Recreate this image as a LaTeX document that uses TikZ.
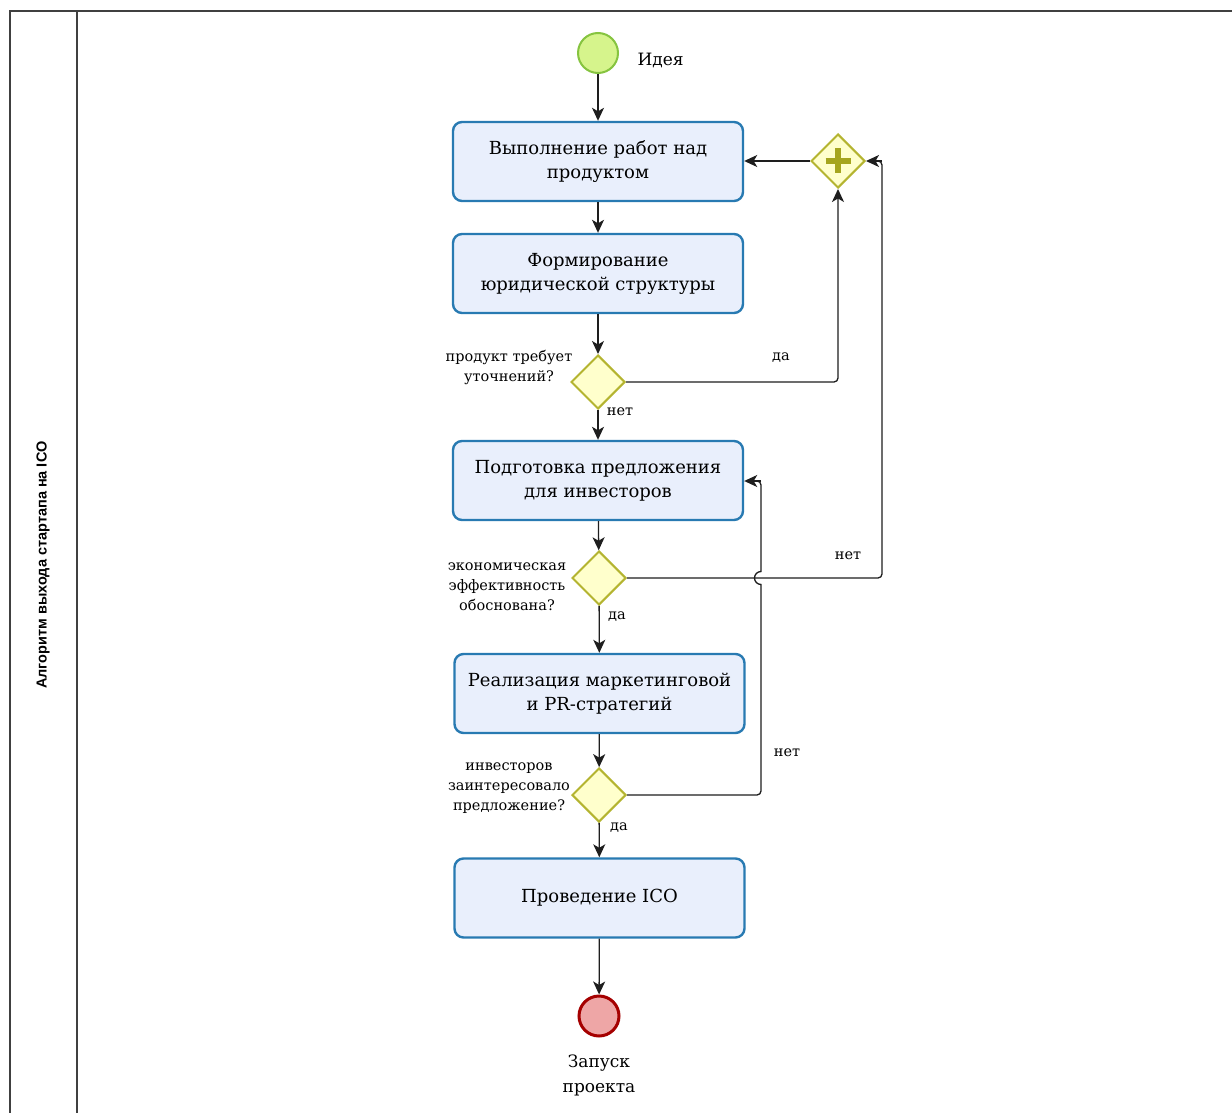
\documentclass[tikz,border=0pt]{standalone}
\usepackage{fontspec}
\setmainfont{DejaVu Serif}
\newfontfamily\lanefont{Liberation Sans}
\usetikzlibrary{shapes.geometric,arrows.meta,calc}

\definecolor{taskfill}{RGB}{233,239,252}
\definecolor{taskline}{RGB}{40,122,178}
\definecolor{gwfill}{RGB}{255,255,204}
\definecolor{gwline}{RGB}{180,180,48}
\definecolor{gwplus}{RGB}{165,165,30}
\definecolor{startfill}{RGB}{214,244,140}
\definecolor{startline}{RGB}{134,196,64}
\definecolor{endfill}{RGB}{238,166,166}
\definecolor{endline}{RGB}{165,0,0}
\definecolor{flowline}{RGB}{30,30,30}

\tikzset{
  task/.style={draw=taskline, fill=taskfill, line width=2.4pt, rounded corners=9pt,
    minimum width=290pt, minimum height=79pt, align=center, inner sep=0pt,
    font=\fontsize{18}{24}\selectfont},
  gateway/.style={diamond, aspect=1, draw=gwline, fill=gwfill, line width=2pt,
    minimum width=54pt, minimum height=54pt, inner sep=0pt},
  startev/.style={circle, draw=startline, fill=startfill, line width=2pt,
    minimum size=40pt, inner sep=0pt},
  endev/.style={circle, draw=endline, fill=endfill, line width=3pt,
    minimum size=40pt, inner sep=0pt},
  flowseg/.style={draw=flowline, line width=1.3pt},
  flow/.style={flowseg, -{Stealth[length=13pt,width=12pt,inset=3.5pt]}},
  gwlabel/.style={align=center, font=\fontsize{14.5}{20}\selectfont},
  lbl/.style={font=\fontsize{14.5}{16}\selectfont},
  evlabel/.style={align=center, font=\fontsize{17}{25}\selectfont},
  frame/.style={draw=black!75, line width=1.6pt}
}

\begin{document}
\begin{tikzpicture}[x=1pt,y=-1pt]
  \useasboundingbox (0,0) rectangle (1232,1113);
  \fill[white] (0,0) rectangle (1232,1113);

  % pool frame and lane header
  \begin{scope}
    \clip (0,0) rectangle (1232,1113);
    \draw[frame] (10,1120) -- (10,11) -- (1240,11);
    \draw[frame] (77,11) -- (77,1120);
  \end{scope}
  \node[rotate=90, font=\lanefont\bfseries\fontsize{14.5}{16}\selectfont] (lane) at (43,565)
    {Алгоритм выхода стартапа на ICO};

  % events
  \node[startev] (s) at (598,53) {};
  \node[evlabel, anchor=west] (slbl) at (634,60) {Идея};
  \node[endev] (e) at (599,1016) {};
  \node[evlabel] (elbl) at (599,1075) {Запуск\\проекта};

  % tasks
  \node[task] (t1) at (598,161.5) {Выполнение работ над\\продуктом};
  \node[task] (t2) at (598,273.5) {Формирование\\юридической структуры};
  \node[task] (t3) at (598,480.5) {Подготовка предложения\\для инвесторов};
  \node[task] (t4) at (599.5,693.5) {Реализация маркетинговой\\и PR-стратегий};
  \node[task] (t5) at (599.5,898) {Проведение ICO};

  % gateways
  \node[gateway] (g1) at (598,382) {};
  \node[gateway] (g2) at (599,578) {};
  \node[gateway] (g3) at (599,795) {};
  \node[gateway] (pg) at (838,161) {};
  \draw[gwplus, line width=6pt] ($(pg.center)+(-12.5,0)$) -- ($(pg.center)+(12.5,0)$);
  \draw[gwplus, line width=6pt] ($(pg.center)+(0,-12.5)$) -- ($(pg.center)+(0,12.5)$);

  \node[gwlabel] (g1l) at (509,367) {продукт требует\\уточнений?};
  \node[gwlabel] (g2l) at (507,587) {экономическая\\эффективность\\обоснована?};
  \node[gwlabel] (g3l) at (509,788) {инвесторов\\заинтересовало\\предложение?};

  % bend points of the loop-back flows
  \coordinate (b1) at (882,161);
  \coordinate (b2) at (761,481);

  % sequence flows
  \draw[flow] (s) -- (t1);
  \draw[flow] (t1) -- (t2);
  \draw[flow] (t2) -- (g1);
  \draw[flow] (g1) -- (t3);
  \draw[flow] (t3) -- (g2);
  \draw[flow] (g2) -- (t4);
  \draw[flow] (t4) -- (g3);
  \draw[flow] (g3) -- (t5);
  \draw[flow] (t5) -- (e);
  \draw[flow] (pg.west) -- (t1.east |- pg.west);

  \draw[flow, rounded corners=4pt] (g1.east) -| (pg.south);
  \draw[flowseg, rounded corners=4pt] (g2.east) -- (882,578) -- (b1) -- ++(-4,0);
  \draw[flow, shorten <=30pt] ($(b1)+(30,0)$) -- (pg.east);
  \draw[flowseg, rounded corners=4pt] (g3.east) -- (761,795) -- (761,610)
    [sharp corners] -- (761,584.5) arc[start angle=270, end angle=90, radius=6.5pt]
    [rounded corners=4pt] -- (b2) -- ++(-4,0);
  \draw[flow, shorten <=30pt] ($(b2)+(30,0)$) -- (t3.east |- b2);

  % flow labels
  \node[lbl] (l1) at (620,412) {нет};
  \node[lbl] (l2) at (781,358) {да};
  \node[lbl] (l3) at (617,617) {да};
  \node[lbl] (l4) at (848,556) {нет};
  \node[lbl] (l5) at (619,828) {да};
  \node[lbl] (l6) at (787,753) {нет};
\end{tikzpicture}
\end{document}
